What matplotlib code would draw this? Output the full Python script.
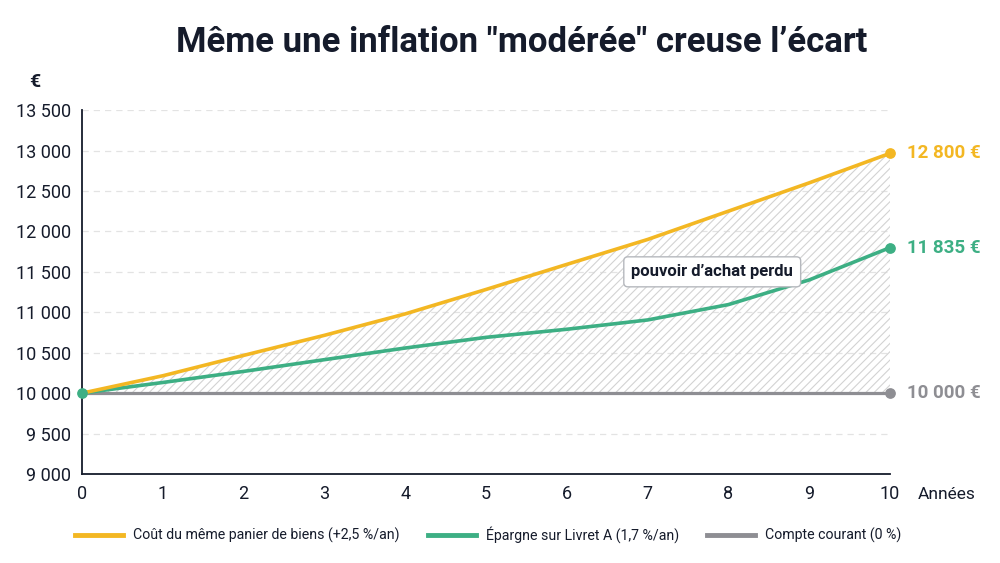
import matplotlib
matplotlib.use("Agg")
import matplotlib.pyplot as plt
from matplotlib.lines import Line2D

plt.rcParams['font.family'] = ['Roboto', 'DejaVu Sans']
plt.rcParams['hatch.color'] = '#d3d3d3'
plt.rcParams['hatch.linewidth'] = 0.8

years = [0, 1, 2, 3, 4, 5, 6, 7, 8, 9, 10]
cost = [10000, 10215, 10467, 10715, 10980, 11282, 11592, 11900, 12250, 12600, 12965]
livret = [10000, 10132, 10269, 10414, 10558, 10690, 10790, 10905, 11095, 11400, 11799]
compte = [10000] * 11
end_labels = ["12 800 €", "11 835 €", "10 000 €"]
series_names = ["Coût du même panier de biens (+2,5 %/an)",
                "Épargne sur Livret A (1,7 %/an)",
                "Compte courant (0 %)"]
yticks = [9000, 9500, 10000, 10500, 11000, 11500, 12000, 12500, 13000, 13500]
ytick_labels = ["9 000", "9 500", "10 000", "10 500", "11 000", "11 500",
                "12 000", "12 500", "13 000", "13 500"]

YEL = '#F3B723'
GRN = '#3DAF84'
GRY = '#8E8E93'
DARK = '#151B2B'

fig = plt.figure(figsize=(10, 5.63), dpi=100)
ax = fig.add_axes([0.082, 0.158, 0.808, 0.6465])
ax.set_xlim(0, 10)
ax.set_ylim(9000, 13500)

ax.fill_between(years, compte, cost, facecolor='none', hatch='////', edgecolor='#d3d3d3', linewidth=0, zorder=1)

for yv in yticks[1:]:
    ax.axhline(yv, color='#e3e3e3', lw=0.9, ls=(0, (5, 4)), zorder=0)

ax.plot(years, compte, color=GRY, lw=2.3, zorder=3, solid_capstyle='round')
ax.plot(years, livret, color=GRN, lw=2.6, zorder=4, solid_capstyle='round', solid_joinstyle='round')
ax.plot(years, cost, color=YEL, lw=2.6, zorder=5, solid_capstyle='round', solid_joinstyle='round')

ax.scatter([years[-1]], [cost[-1]], s=45, color=YEL, zorder=6, clip_on=False)
ax.scatter([years[-1]], [livret[-1]], s=45, color=GRN, zorder=6, clip_on=False)
ax.scatter([years[-1]], [compte[-1]], s=45, color=GRY, zorder=6, clip_on=False)
ax.scatter([years[0]], [livret[0]], s=45, color=GRN, zorder=7, clip_on=False)

for val, lab, col in zip([cost[-1], livret[-1], compte[-1]], end_labels, [YEL, GRN, GRY]):
    ax.annotate(lab, xy=(10, val), xytext=(12, 0), textcoords='offset points',
                ha='left', va='center', color=col, fontsize=13.5, fontweight='bold',
                annotation_clip=False)

ax.text(7.8, 11500, "pouvoir d’achat perdu", ha='center', va='center', fontsize=12,
        fontweight='bold', color=DARK, zorder=8,
        bbox=dict(boxstyle='round,pad=0.45,rounding_size=0.25', fc='white', ec='#b5b8bd', lw=1))

for s in ['top', 'right']:
    ax.spines[s].set_visible(False)
ax.spines['left'].set_color(DARK)
ax.spines['bottom'].set_color(DARK)
ax.spines['left'].set_linewidth(1.3)
ax.spines['bottom'].set_linewidth(1.3)

ax.set_yticks(yticks)
ax.set_yticklabels(ytick_labels, fontsize=13, color=DARK)
ax.set_xticks(years)
ax.set_xticklabels([str(y) for y in years], fontsize=13, color=DARK)
ax.tick_params(axis='both', length=0, pad=8)
ax.tick_params(axis='y', pad=8)

fig.text(0.947, 0.122, "Années", ha='center', va='center', fontsize=12.5, color=DARK)
fig.text(0.035, 0.855, "€", ha='center', va='center', fontsize=14, color=DARK, fontweight='bold')

fig.text(0.522, 0.925, "Même une inflation \"modérée\" creuse l’écart", ha='center', va='center',
         fontsize=25, fontweight='bold', color=DARK)

handles = [Line2D([0], [0], color=YEL, lw=3.5),
           Line2D([0], [0], color=GRN, lw=3.5),
           Line2D([0], [0], color=GRY, lw=3.5)]
fig.legend(handles, series_names, loc='center', bbox_to_anchor=(0.488, 0.05), ncol=3,
           frameon=False, fontsize=10.2, handlelength=3.4, columnspacing=2.0, handletextpad=0.7,
           labelcolor=DARK)

fig.savefig("out.png", dpi=100, facecolor='white')
